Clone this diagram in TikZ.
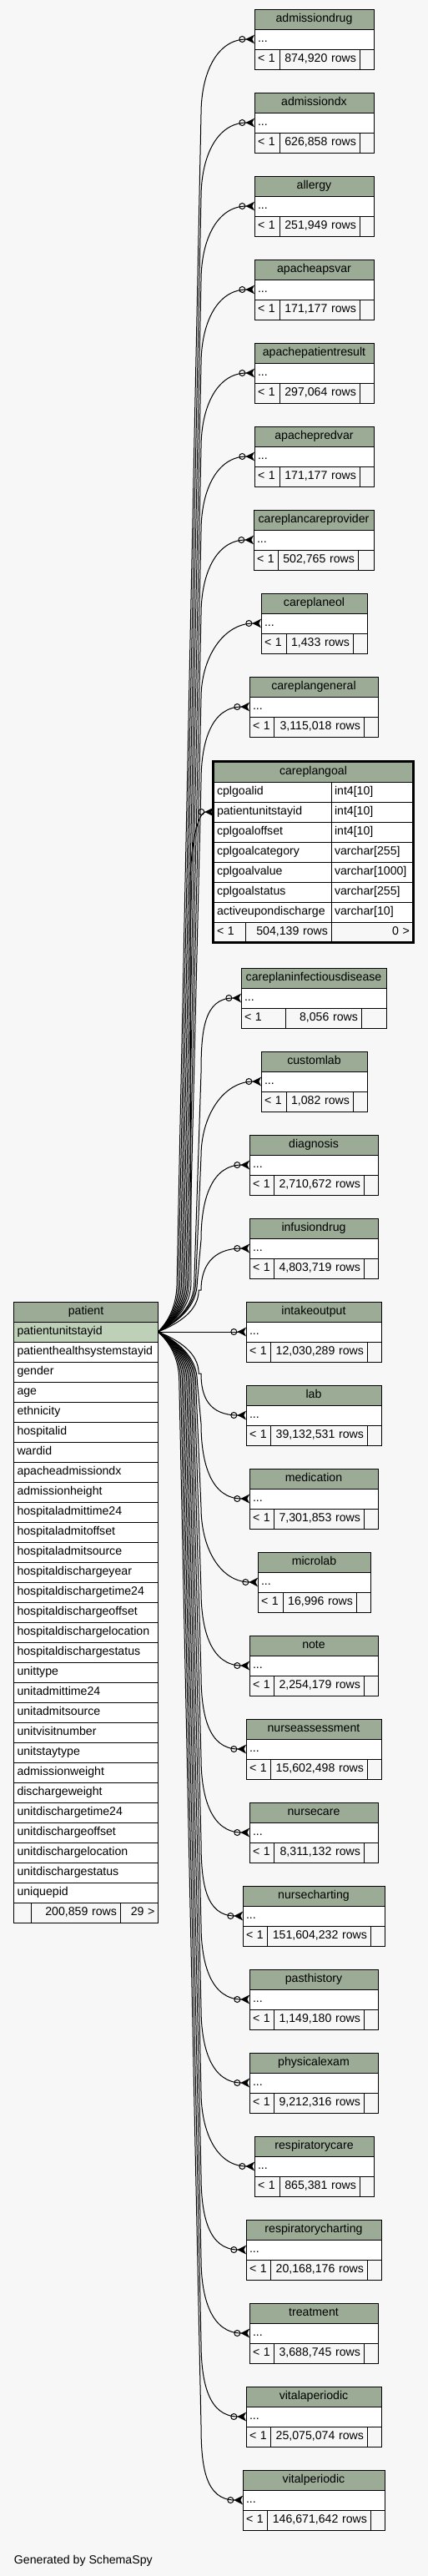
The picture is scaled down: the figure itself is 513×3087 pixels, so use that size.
\documentclass[tikz,border=0pt]{standalone}
\usepackage{fontspec}
\setmainfont{Liberation Sans}
\usetikzlibrary{arrows.meta}

\definecolor{bggray}{HTML}{F7F7F7}
\definecolor{hdrgreen}{HTML}{9BAB96}
\definecolor{keygreen}{HTML}{BED1B8}

\newcommand{\tblfont}{\fontsize{10.6}{12}\selectfont}

\tikzset{
  tcell/.style={draw, line width=0.75pt, inner xsep=3pt, inner ysep=0pt, outer sep=0pt,
    minimum height=18pt, text height=8pt, text depth=2.5pt, anchor=north west, font=\tblfont},
  hdr/.style={tcell, fill=hdrgreen},
  colrow/.style={tcell, fill=white, align=left},
  keyrow/.style={colrow, fill=keygreen},
  footcell/.style={tcell, fill=bggray},
  fk/.style={line width=0.75pt,
    -{Circle[open,length=6pt,width=6pt]Stealth[reversed,length=8pt,width=8pt,inset=2pt]}},
}

% foreign key line from patient.patientunitstayid to a table row
% #1 target node, #2 its y, #3 bundle x near patient, #4 bundle x near target, #5 last control x
\newcommand{\fkline}[5]{%
  \pgfmathsetmacro\fkdy{#2-1596}%
  \pgfmathsetmacro\fks{(\fkdy>0)-(\fkdy<0)}%
  \pgfmathsetmacro\fkba{\fks*min(60,abs(\fkdy)/2)}%
  \pgfmathsetmacro\fkbb{\fks*min(90,abs(\fkdy)/2)}%
  \pgfmathsetmacro\fkxs{(190+#3)/2}%
  \pgfmathsetmacro\fkys{1596+0.2*(\fkba)}%
  \pgfmathsetmacro\fkya{1596+0.5*(\fkba)}%
  \pgfmathsetmacro\fkyb{1596+(\fkba)}%
  \pgfmathsetmacro\fkyc{#2-(\fkbb)}%
  \pgfmathsetmacro\fkyd{#2-0.45*(\fkbb)}%
  \draw[fk] (pat-id.east) .. controls (\fkxs,\fkys) and (#3,\fkya) .. (#3,\fkyb)
    -- (#4,\fkyc) .. controls (#4,\fkyd) and (#5,#2) .. (#1.west);
}

% collapsed table: #1 name, #2 top, #3 left, #4 right, #5 #6 footer splits, #7 row count
\newcommand{\smalltable}[7]{%
  \pgfmathsetmacro\tbw{(#4-#3)*0.75}%
  \pgfmathsetmacro\tbtw{\tbw-6}%
  \pgfmathsetmacro\tbwa{(#5-#3)*0.75-6}%
  \pgfmathsetmacro\tbwb{(#6-#5)*0.75-6}%
  \pgfmathsetmacro\tbwc{(#4-#6)*0.75}%
  \pgfmathsetmacro\tbyc{#2+24}%
  \pgfmathsetmacro\tbyf{#2+48}%
  \pgfmathsetmacro\tbye{#2+36}%
  \pgfmathsetmacro\tbxb{240-abs(\tbye-1596)*0.018}%
  \pgfmathsetmacro\tbxc{#3-45}%
  \node[hdr, minimum width=\tbw pt] (#1) at (#3,#2) {#1};
  \node[colrow, text width=\tbtw pt] (#1-c) at (#3,\tbyc) {...};
  \node[footcell, text width=\tbwa pt, align=left] (#1-f1) at (#3,\tbyf) {< 1};
  \node[footcell, text width=\tbwb pt, align=right] (#1-f2) at (#5,\tbyf) {#7 rows};
  \node[footcell, minimum width=\tbwc pt] (#1-f3) at (#6,\tbyf) {};
  \fkline{#1-c}{\tbye}{\tbxb}{241}{\tbxc}
}

\begin{document}
\begin{tikzpicture}[x=0.75pt,y=-0.75pt]
  \useasboundingbox (0,0) rectangle (513,3087);
  \fill[bggray] (0,0) rectangle (513,3087);

  % patient
  \node[hdr, minimum width=129.75pt] (pat) at (16.5,1560) {patient};
  \node[keyrow, text width=123.75pt] (pat-id) at (16.5,1584) {patientunitstayid};
  \foreach \colname [count=\i] in {patienthealthsystemstayid, gender, age, ethnicity,
      hospitalid, wardid, apacheadmissiondx, admissionheight, hospitaladmittime24,
      hospitaladmitoffset, hospitaladmitsource, hospitaldischargeyear,
      hospitaldischargetime24, hospitaldischargeoffset, hospitaldischargelocation,
      hospitaldischargestatus, unittype, unitadmittime24, unitadmitsource,
      unitvisitnumber, unitstaytype, admissionweight, dischargeweight,
      unitdischargetime24, unitdischargeoffset, unitdischargelocation,
      unitdischargestatus, uniquepid}
    \node[colrow, text width=123.75pt] (pat-\i) at (16.5,{1584+24*\i}) {\colname};
  \node[footcell, minimum width=15.375pt] (pat-f1) at (16.5,2280) {};
  \node[footcell, text width=74.25pt, align=right] (pat-f2) at (37,2280) {200,859 rows};
  \node[footcell, text width=28.125pt, align=right] (pat-f3) at (144,2280) {29 >};

  % tables above
  \smalltable{admissiondrug}{11}{305}{448}{335}{431}{874,920}
  \smalltable{admissiondx}{111}{305}{448}{335}{431}{626,858}
  \smalltable{allergy}{211}{305}{448}{335}{431}{251,949}
  \smalltable{apacheapsvar}{311}{305}{448}{335}{431}{171,177}
  \smalltable{apachepatientresult}{411}{305}{448}{335}{431}{297,064}
  \smalltable{apachepredvar}{511}{305}{448}{335}{431}{171,177}
  \smalltable{careplancareprovider}{611}{304}{448}{333}{429}{502,765}
  \smalltable{careplaneol}{711}{313}{440}{343}{423}{1,433}
  \smalltable{careplangeneral}{811}{299}{453}{328}{436}{3,115,018}

  % careplangoal, shown in full
  \node[hdr, minimum width=179.25pt] (cpg) at (256,913) {careplangoal};
  \foreach \cname/\ctype [count=\i] in {cplgoalid/int4[10], patientunitstayid/int4[10],
      cplgoaloffset/int4[10], cplgoalcategory/varchar[255], cplgoalvalue/varchar[1000],
      cplgoalstatus/varchar[255], activeupondischarge/varchar[10]} {
    \node[colrow, text width=99.75pt] (cpg-\i) at (256,{913+24*\i}) {\cname};
    \node[colrow, text width=67.5pt] (cpg-t\i) at (397,{913+24*\i}) {\ctype};
  }
  \node[footcell, text width=22.5pt, align=left] (cpg-f1) at (256,1105) {< 1};
  \node[footcell, text width=71.25pt, align=right] (cpg-f2) at (294,1105) {504,139 rows};
  \node[footcell, text width=67.5pt, align=right] (cpg-f3) at (397,1105) {0 >};
  \node[draw, line width=2.25pt, minimum width=180pt, minimum height=162.75pt,
    anchor=north west, outer sep=0pt] (cpg-frame) at (255.5,912.5) {};
  \fkline{cpg-2}{973}{229}{228}{237}

  % tables below
  \smalltable{careplaninfectiousdisease}{1160}{289}{463}{342}{433}{8,056}
  \smalltable{customlab}{1260}{313}{440}{343}{423}{1,082}
  \smalltable{diagnosis}{1360}{299}{453}{328}{436}{2,710,672}
  \smalltable{infusiondrug}{1460}{299}{453}{328}{436}{4,803,719}
  \smalltable{intakeoutput}{1560}{295}{457}{324}{440}{12,030,289}
  \smalltable{lab}{1660}{295}{457}{324}{440}{39,132,531}
  \smalltable{medication}{1760}{299}{453}{328}{436}{7,301,853}
  \smalltable{microlab}{1860}{309}{444}{339}{427}{16,996}
  \smalltable{note}{1960}{299}{453}{328}{436}{2,254,179}
  \smalltable{nurseassessment}{2060}{295}{457}{324}{440}{15,602,498}
  \smalltable{nursecare}{2160}{299}{453}{328}{436}{8,311,132}
  \smalltable{nursecharting}{2260}{291}{461}{320}{444}{151,604,232}
  \smalltable{pasthistory}{2360}{299}{453}{328}{436}{1,149,180}
  \smalltable{physicalexam}{2460}{299}{453}{328}{436}{9,212,316}
  \smalltable{respiratorycare}{2560}{305}{448}{335}{431}{865,381}
  \smalltable{respiratorycharting}{2660}{295}{457}{324}{440}{20,168,176}
  \smalltable{treatment}{2760}{299}{453}{328}{436}{3,688,745}
  \smalltable{vitalaperiodic}{2860}{295}{457}{324}{440}{25,075,074}
  \smalltable{vitalperiodic}{2960}{291}{461}{320}{444}{146,671,642}

  \node[anchor=base west, inner sep=0pt, font=\tblfont] (credit) at (16.7,3072)
    {Generated by SchemaSpy};
\end{tikzpicture}
\end{document}
